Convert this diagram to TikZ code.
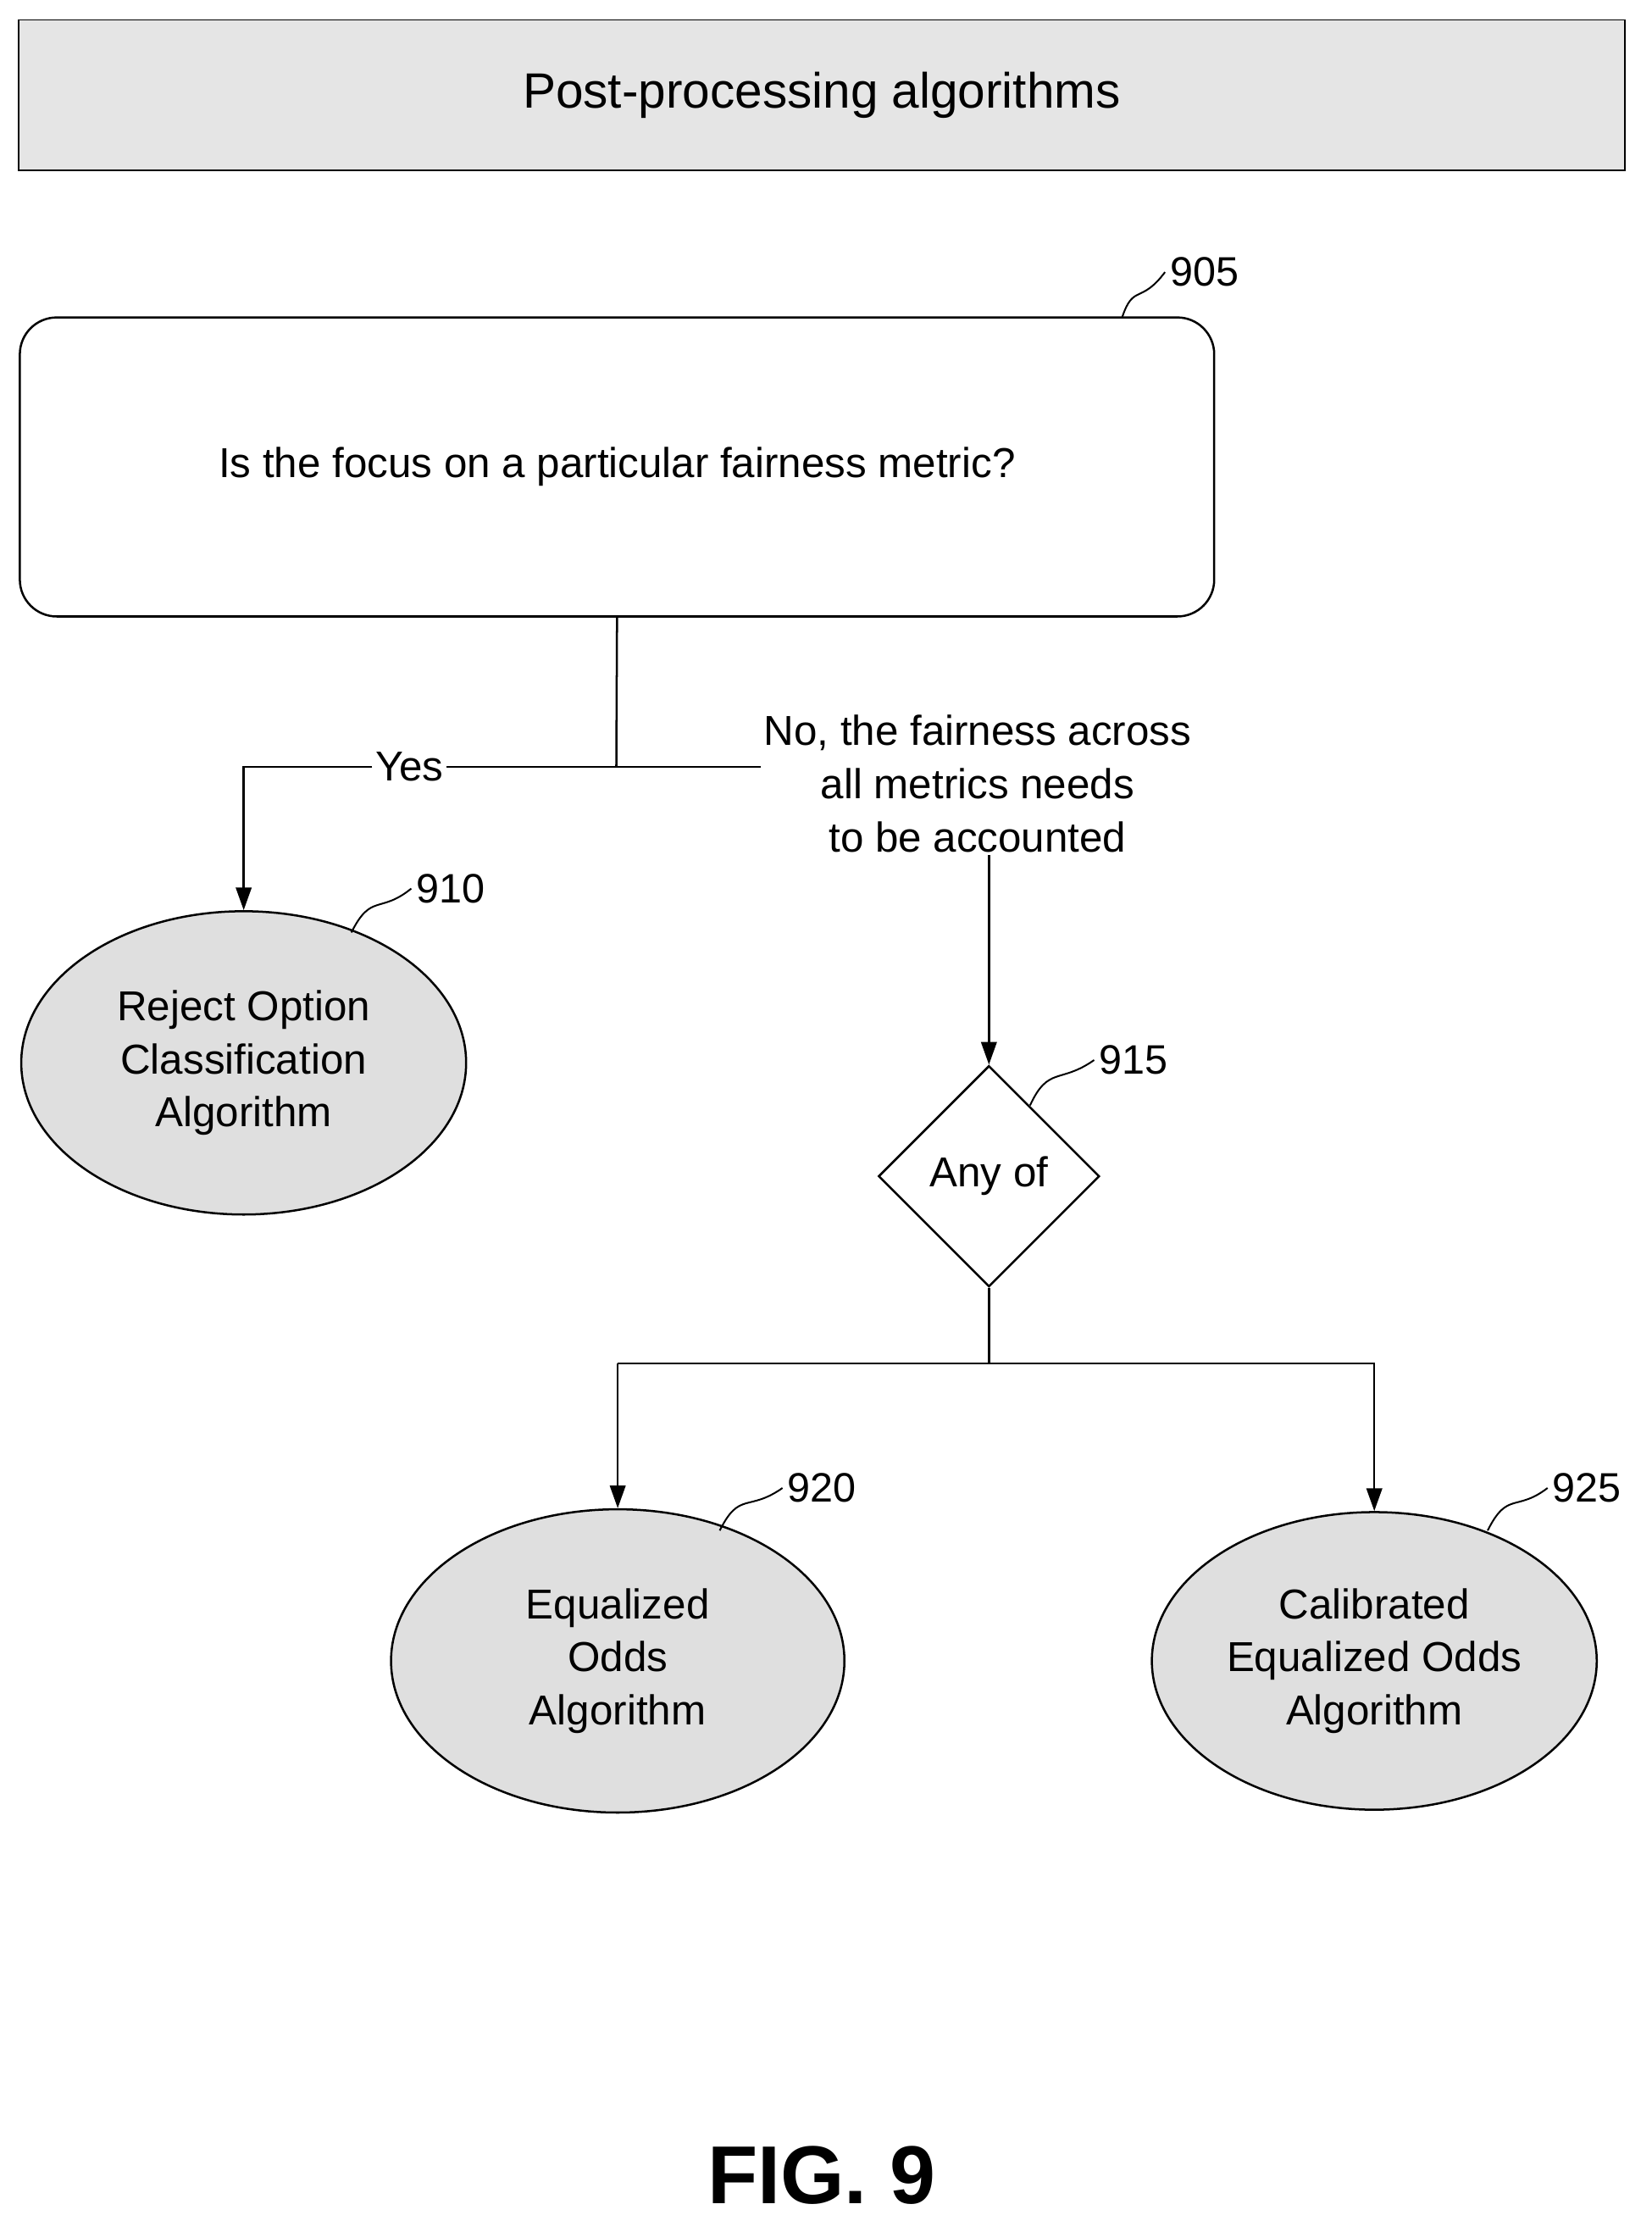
\documentclass[tikz,border=0pt]{standalone}
\usepackage{fontspec}
\setmainfont{Liberation Sans}
\usetikzlibrary{shapes.geometric,arrows.meta}
\begin{document}
\begin{tikzpicture}[x=1pt,y=-1pt,
  txt/.style={font=\fontsize{29.5}{37.5}\selectfont,align=center,inner sep=2pt},
  oval/.style={draw,ellipse,fill=gray!25,line width=1.5pt,txt},
  con/.style={line width=1.5pt},
  arr/.style={con,-{Triangle[length=16pt,width=11pt]}},
  lbl/.style={font=\fontsize{29}{32}\selectfont}]
\useasboundingbox (0,0) rectangle (1166,1575);
\node[draw,fill=gray!20,line width=1pt,minimum width=1134pt,minimum height=106pt,font=\fontsize{35}{40}\selectfont] (title) at (580,67) {Post-processing algorithms};
\node[draw,rounded corners=26pt,line width=1.5pt,minimum width=843pt,minimum height=211pt,txt] (q) at (435.5,329.5) {Is the focus on a particular fairness metric?};
\coordinate (j) at (435,541);
\coordinate (l) at (172,541);
\node[txt] (yes) at (289,541) {Yes};
\node[txt] (no) at (690,553) {No, the fairness across\\all metrics needs\\to be accounted};
\node[oval,minimum width=314pt,minimum height=214pt] (e1) at (172,750) {Reject Option\\Classification\\Algorithm};
\node[draw,diamond,line width=1.5pt,minimum width=156pt,minimum height=156pt,inner sep=0pt,txt] (d) at (698,830) {Any of};
\coordinate (m) at (698,962);
\coordinate (ml) at (436,962);
\coordinate (mr) at (970,962);
\node[oval,minimum width=320pt,minimum height=214pt] (e2) at (436,1172) {Equalized\\Odds\\Algorithm};
\node[oval,minimum width=314pt,minimum height=210pt] (e3) at (970,1172) {Calibrated\\Equalized Odds\\Algorithm};
\draw[con] (q.south) -- (j);
\draw[con] (j) -- (yes.east);
\draw[con] (j) -- (no.west |- j);
\draw[arr] (yes.west) -- (l) -- (e1.north);
\draw[arr] (no.south -| d.north) -- (d.north);
\draw[con] (d.south) -- (m);
\draw[arr] (ml) -- (mr |- ml) -- (e3.north);
\draw[arr] (ml) -- (e2.north);
\node[lbl] (n905) at (850,192) {905};
\node[lbl] (n910) at (318,627) {910};
\node[lbl] (n915) at (800,748) {915};
\node[lbl] (n920) at (580,1050) {920};
\node[lbl] (n925) at (1120,1050) {925};
\draw[line width=1.2pt] (792,224) .. controls (800,200) and (805,215) .. (n905.west);
\draw[line width=1.2pt] (248,658) .. controls (262,630) and (268,645) .. (n910.west);
\draw[line width=1.2pt] (727,780) .. controls (740,752) and (748,765) .. (n915.west);
\draw[line width=1.2pt] (508,1080) .. controls (522,1052) and (528,1067) .. (n920.west);
\draw[line width=1.2pt] (1050,1080) .. controls (1064,1052) and (1070,1067) .. (n925.west);
\node[font=\bfseries\fontsize{58}{64}\selectfont] (fig) at (580,1535) {FIG. 9};
\end{tikzpicture}
\end{document}
